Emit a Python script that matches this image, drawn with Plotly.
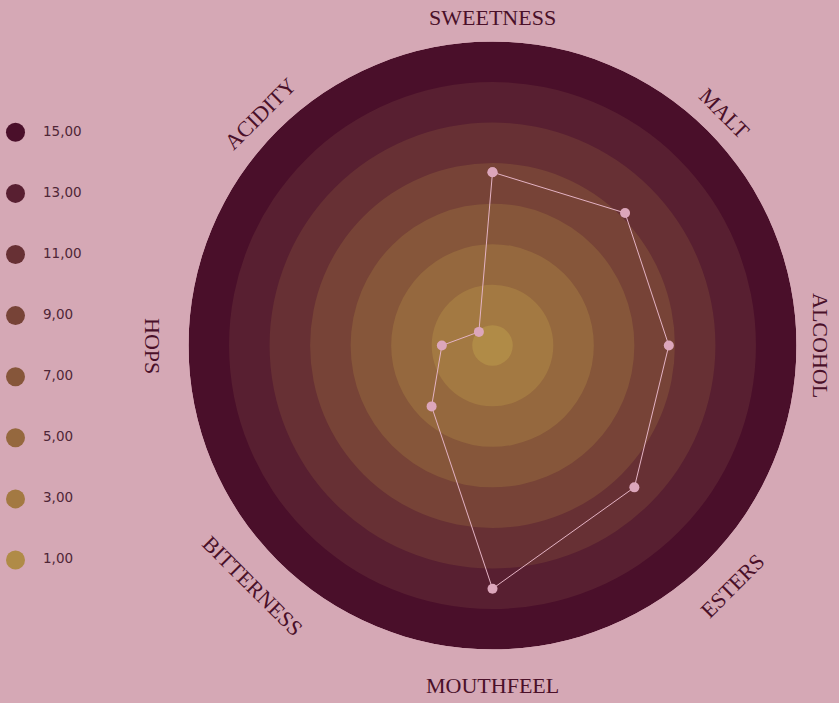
import math

import plotly.graph_objects as go


CATEGORIES = ["SWEETNESS", "MALT", "ALCOHOL", "ESTERS",
              "MOUTHFEEL", "BITTERNESS", "HOPS", "ACIDITY"]
VALUES = [8.55, 9.25, 8.7, 9.9, 12.0, 4.25, 2.5, 0.95]

BANDS = [15, 13, 11, 9, 7, 5, 3, 1]
BAND_COLORS = ["#4a0f2a", "#581f31", "#673034", "#774337",
               "#86563a", "#95683e", "#a37942", "#b08b47"]

W, H = 839, 703
CX, CY, R = 492.5, 345.5, 304   # circle centre / radius in px
BG = "#d5a8b5"
INK = "#4a1029"


theta = [i * 360 / len(CATEGORIES) for i in range(len(CATEGORIES))]

fig = go.Figure()

# concentric bands, biggest first so the small ones sit on top
fig.add_trace(go.Barpolar(
    r=BANDS, theta=[0] * len(BANDS), width=[360] * len(BANDS),
    marker=dict(color=BAND_COLORS, line=dict(width=0)),
    hoverinfo="skip", showlegend=False,
))

fig.add_trace(go.Scatterpolar(
    r=VALUES + VALUES[:1], theta=theta + theta[:1],
    mode="lines+markers",
    line=dict(color="#e4b3c4", width=1),
    marker=dict(color="#dca6bb", size=10),
    showlegend=False,
))

# legend drawn by hand on the left
fig.add_trace(go.Scatter(
    x=[15.5] * len(BANDS), y=BANDS, mode="markers",
    marker=dict(color=BAND_COLORS, size=19),
    xaxis="x", yaxis="y", showlegend=False, hoverinfo="skip",
))
fig.add_trace(go.Scatter(
    x=[43] * len(BANDS), y=BANDS, mode="text",
    texttemplate="%{y:.2f}", textposition="middle right",
    textfont=dict(family="DejaVu Sans", size=13.5, color="#4f2637"),
    xaxis="x", yaxis="y", showlegend=False, hoverinfo="skip",
))

# axis labels, turned along the circle
annotations = []
for name, a in zip(CATEGORIES, theta):
    tilt = a % 180
    if tilt > 90:
        tilt -= 180
    bottom = 90 < a < 315
    rl = 340 if bottom else 328
    ra = math.radians(a)
    px = CX + rl * math.sin(ra)
    py = CY - rl * math.cos(ra)
    annotations.append(dict(
        text=name, x=px / W, y=1 - py / H, xref="paper", yref="paper",
        xanchor="center", yanchor="middle", showarrow=False,
        textangle=tilt,
        font=dict(family="Liberation Serif", size=22, color=INK),
    ))

px_per_unit = 30.55
y_lo = 1 - (H - 560) / px_per_unit

fig.update_layout(
    width=W, height=H,
    margin=dict(l=0, r=0, t=0, b=0),
    paper_bgcolor=BG, plot_bgcolor=BG,
    separators=", ",
    polar=dict(
        domain=dict(x=[(CX - R) / W, (CX + R) / W],
                    y=[(H - CY - R) / H, (H - CY + R) / H]),
        bgcolor="rgba(0,0,0,0)",
        barmode="overlay",
        radialaxis=dict(range=[0, 15], visible=False),
        angularaxis=dict(direction="clockwise", rotation=90,
                         thetaunit="degrees", visible=False),
    ),
    xaxis=dict(domain=[0, 0.2], range=[0, 0.2 * W], visible=False,
               fixedrange=True),
    yaxis=dict(domain=[0, 1], range=[y_lo, y_lo + H / px_per_unit],
               visible=False, fixedrange=True),
    annotations=annotations,
)

fig.write_html("out.html", config={"displayModeBar": False},
               post_script="document.body.style.margin='0';")
